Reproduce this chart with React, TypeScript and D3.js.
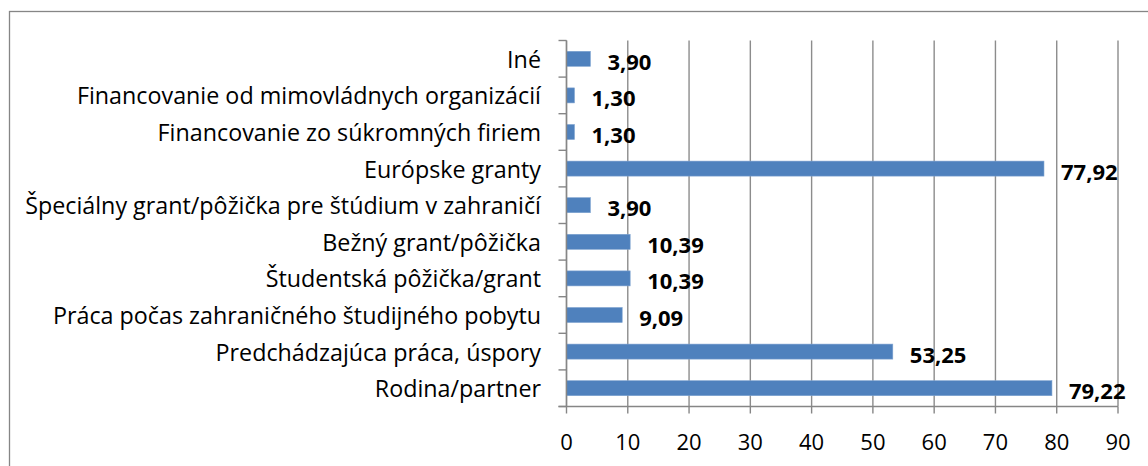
import React from "react";
import * as d3 from "d3";

// categories from top to bottom, as in the chart
const categories = [
  "Iné",
  "Financovanie od mimovládnych organizácií",
  "Financovanie zo súkromných firiem",
  "Európske granty",
  "Špeciálny grant/pôžička pre štúdium v zahraničí",
  "Bežný grant/pôžička",
  "Študentská pôžička/grant",
  "Práca počas zahraničného študijného pobytu",
  "Predchádzajúca práca, úspory",
  "Rodina/partner",
];
const values = [3.9, 1.3, 1.3, 77.92, 3.9, 10.39, 10.39, 9.09, 53.25, 79.22];
const xTicks = [0, 10, 20, 30, 40, 50, 60, 70, 80, 90];

const W = 1148;
const H = 466;
const FONT = "'Open Sans', sans-serif";

const fmt = (v: number) => d3.format(".2f")(v).replace(".", ",");

export default function App() {
  const x = d3.scaleLinear().domain([0, 90]).range([566.5, 1118]);
  const y = d3
    .scaleBand<string>()
    .domain(categories)
    .range([40.5, 406.5])
    .paddingInner(0.59)
    .paddingOuter(0.295);
  const step = y.step();
  const top = 40.5;
  const bottom = 406.5;

  return (
    <svg
      width={W}
      height={H}
      style={{ position: "absolute", left: 0, top: 0, background: "#fff" }}
    >
      {/* chart frame */}
      <rect x={9.5} y={11.5} width={1300} height={600} fill="none" stroke="#868686" strokeWidth={1.3} />

      {/* vertical gridlines */}
      {xTicks.map((t) => (
        <line key={"g" + t} x1={x(t)} x2={x(t)} y1={top} y2={bottom} stroke="#8c8c8c" strokeWidth={1.4} />
      ))}

      {/* bars */}
      {categories.map((c, i) => (
        <rect
          key={"b" + c}
          x={x(0)}
          y={y(c)}
          width={x(values[i]) - x(0)}
          height={y.bandwidth()}
          fill="#4f81bd"
          stroke="#7ea3d0"
          strokeWidth={0.6}
        />
      ))}

      {/* value labels */}
      {categories.map((c, i) => (
        <text
          key={"v" + c}
          x={x(values[i]) + 17}
          y={(y(c) as number) + y.bandwidth() / 2 + 2}
          dominantBaseline="central"
          fontFamily={FONT}
          fontWeight="bold"
          fontSize={22}
          fill="#000"
        >
          {fmt(values[i])}
        </text>
      ))}

      {/* y axis */}
      <line x1={x(0)} x2={x(0)} y1={top} y2={bottom} stroke="#868686" strokeWidth={1.4} />
      {d3.range(categories.length + 1).map((k) => (
        <line
          key={"yt" + k}
          x1={x(0) - 8}
          x2={x(0)}
          y1={top + k * step}
          y2={top + k * step}
          stroke="#868686"
          strokeWidth={1.4}
        />
      ))}
      {categories.map((c) => (
        <text
          key={"l" + c}
          x={541}
          y={(y(c) as number) + y.bandwidth() / 2}
          textAnchor="end"
          dominantBaseline="central"
          fontFamily={FONT}
          fontSize={23.3}
          fill="#000"
        >
          {c}
        </text>
      ))}

      {/* x axis */}
      <line x1={x(0) - 8} x2={x(90)} y1={bottom} y2={bottom} stroke="#868686" strokeWidth={1.4} />
      {xTicks.map((t) => (
        <g key={"xt" + t}>
          <line x1={x(t)} x2={x(t)} y1={bottom} y2={bottom + 7} stroke="#868686" strokeWidth={1.4} />
          <text
            x={x(t)}
            y={441}
            textAnchor="middle"
            dominantBaseline="central"
            fontFamily={FONT}
            fontSize={22}
            fill="#000"
          >
            {t}
          </text>
        </g>
      ))}
    </svg>
  );
}
